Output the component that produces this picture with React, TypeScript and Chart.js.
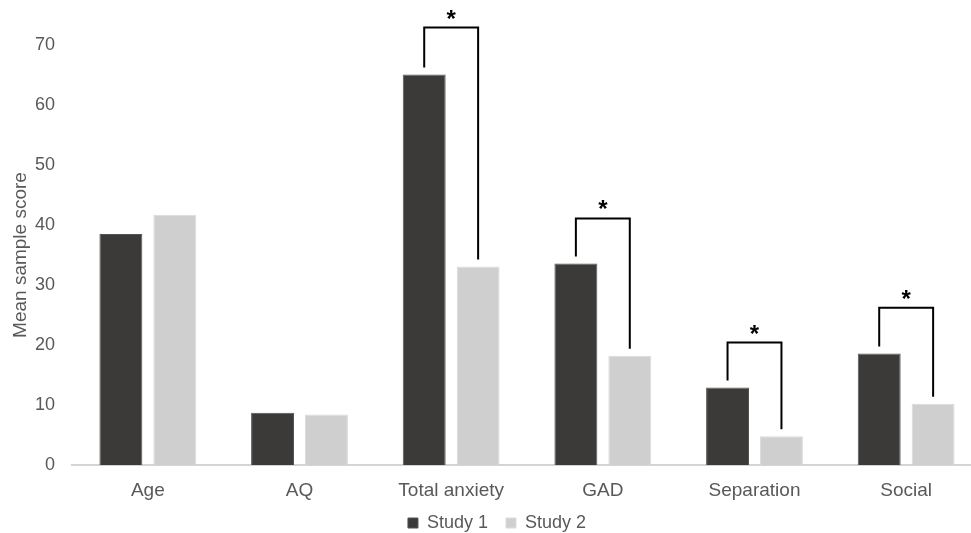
import React, { useEffect, useRef } from "react";
import { Chart, registerables } from "chart.js";

Chart.register(...registerables);

const categories = ["Age", "AQ", "Total anxiety", "GAD", "Separation", "Social"];
const study1 = [38.5, 8.7, 65.1, 33.6, 12.9, 18.6];
const study2 = [41.7, 8.4, 33.1, 18.2, 4.8, 10.2];
const yTicks = [0, 10, 20, 30, 40, 50, 60, 70];
// significance brackets: category index and bracket level (in data units)
const sigIndex = [2, 3, 4, 5];
const sigLevel = [72.9, 41.1, 20.4, 26.2];
const sigMark = ["*", "*", "*", "*"];

const FONT = "'Liberation Sans', Arial, Helvetica, sans-serif";
const TEXT = "#595959";

const bracketPlugin = {
  id: "sigBrackets",
  afterDatasetsDraw(chart: any) {
    const ctx = chart.ctx;
    const m0 = chart.getDatasetMeta(0);
    const m1 = chart.getDatasetMeta(1);
    const ys = chart.scales.y;
    const gap = 7;
    ctx.save();
    ctx.strokeStyle = "#000000";
    ctx.fillStyle = "#000000";
    ctx.lineWidth = 2;
    ctx.lineJoin = "miter";
    sigIndex.forEach((ci, k) => {
      const b0 = m0.data[ci];
      const b1 = m1.data[ci];
      const by = ys.getPixelForValue(sigLevel[k]);
      ctx.beginPath();
      ctx.moveTo(b0.x, b0.y - gap);
      ctx.lineTo(b0.x, by);
      ctx.lineTo(b1.x, by);
      ctx.lineTo(b1.x, b1.y - gap);
      ctx.stroke();
      ctx.font = `bold 24px ${FONT}`;
      ctx.textAlign = "center";
      ctx.textBaseline = "alphabetic";
      ctx.fillText(sigMark[k], (b0.x + b1.x) / 2, by - 1);
    });
    ctx.restore();
  },
};

// nudges the bottom legend up/right after layout
const legendNudge = {
  id: "legendNudge",
  afterLayout(chart: any) {
    const lg = chart.legend;
    if (!lg) return;
    lg.top -= 9;
    lg.bottom -= 9;
    lg.left += 6;
    lg.right += 6;
  },
};

export default function App() {
  const ref = useRef<HTMLCanvasElement | null>(null);
  useEffect(() => {
    if (!ref.current) return;
    const chart = new Chart(ref.current, {
      type: "bar",
      data: {
        labels: categories,
        datasets: [
          {
            label: "Study 1",
            data: study1,
            backgroundColor: "#3b3a39",
            borderColor: "#555453",
            borderWidth: 1,
            categoryPercentage: 0.711,
            barPercentage: 0.796,
          },
          {
            label: "Study 2",
            data: study2,
            backgroundColor: "#d0cfcf",
            borderColor: "#dcdcdc",
            borderWidth: 1,
            categoryPercentage: 0.711,
            barPercentage: 0.796,
          },
        ],
      },
      options: {
        responsive: false,
        animation: false,
        layout: { padding: { left: 0, right: 8, top: 45, bottom: 4 } },
        plugins: {
          tooltip: { enabled: false },
          legend: {
            position: "bottom",
            labels: {
              boxWidth: 10,
              boxHeight: 10,
              padding: 18,
              color: TEXT,
              font: { family: FONT, size: 18 },
            },
          },
        },
        scales: {
          x: {
            grid: { display: false, drawTicks: false },
            border: { display: true, color: "#d4d4d4", width: 2 },
            ticks: { color: TEXT, font: { family: FONT, size: 19 }, padding: 14, maxRotation: 0 },
            afterFit(scale: any) {
              scale.height = 40;
            },
          },
          y: {
            min: 0,
            max: 70,
            afterBuildTicks(scale: any) {
              scale.ticks = yTicks.map((v) => ({ value: v }));
            },
            grid: { display: false, drawTicks: false },
            border: { display: false },
            ticks: { color: TEXT, font: { family: FONT, size: 18 }, padding: 17 },
            title: {
              display: true,
              text: "Mean sample score",
              color: TEXT,
              font: { family: FONT, size: 19 },
              padding: { top: 9, bottom: 0 },
            },
            afterFit(scale: any) {
              scale.width = 72;
            },
          },
        },
      },
      plugins: [bracketPlugin, legendNudge],
    });
    return () => chart.destroy();
  }, []);
  return (
    <div
      style={{
        position: "fixed",
        left: 0,
        top: 0,
        width: 971,
        height: 533,
        overflow: "hidden",
        background: "#ffffff",
      }}
    >
      <canvas ref={ref} width={990} height={555} style={{ display: "block" }} />
    </div>
  );
}
